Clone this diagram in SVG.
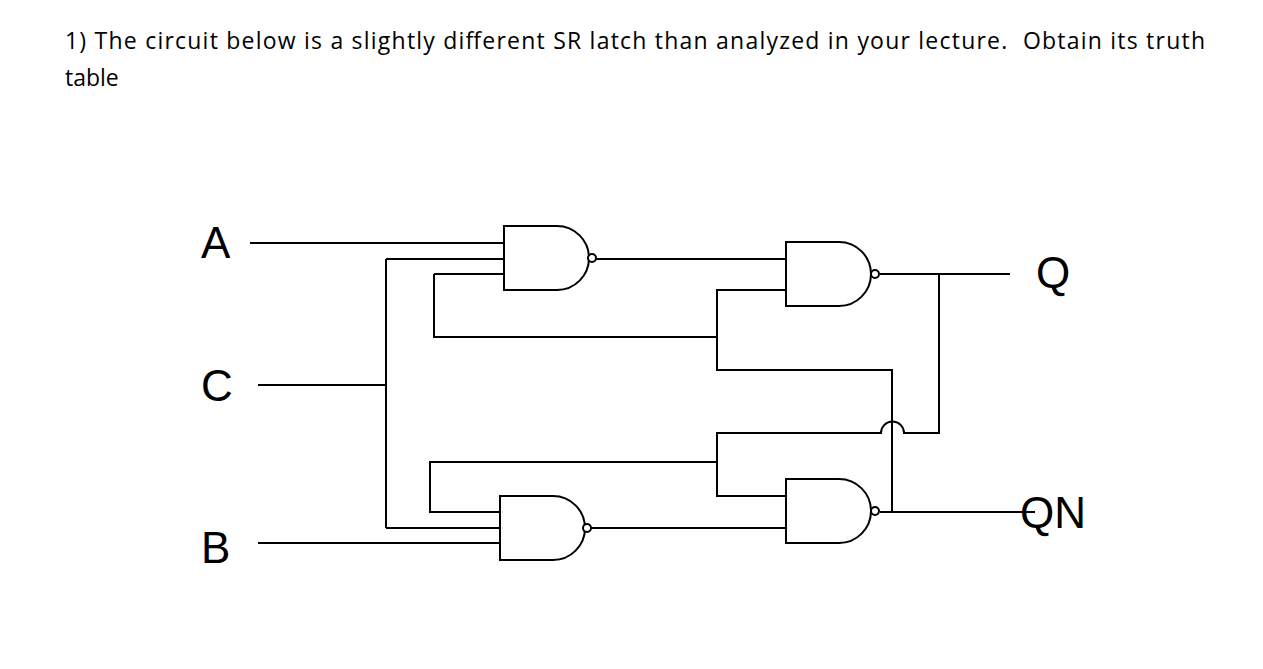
<svg xmlns="http://www.w3.org/2000/svg" width="1263" height="669" viewBox="0 0 1263 669">
<style>
.w{fill:none;stroke:#000;stroke-width:2}
.g{fill:#fff;stroke:#000;stroke-width:2}
.lbl{font-family:"Liberation Sans",Arial,sans-serif;font-size:44px;fill:#000}
.t{font-family:"Open Sans","Noto Sans",sans-serif;font-size:23px;fill:#000}
</style>
<rect width="1263" height="669" fill="#fff"/>
<text class="t" x="65" y="49" textLength="1140" lengthAdjust="spacing" xml:space="preserve">1) The circuit below is a slightly different SR latch than analyzed in your lecture.  Obtain its truth</text>
<text class="t" x="65" y="86">table</text>
<g id="connectors">
<path class="w" d="M250 243H504M258 385H386M386 259V528M386 259H504M386 528H500M258 543H500"/>
<path class="w" d="M592 259H786M587 528H786"/>
<path class="w" d="M434 274V337H717M504 274H434M786 290H717V370H892V512M880 512H1035"/>
<path class="w" d="M880 274H1010M939 274V433H904A11.5 11.5 0 0 0 881 433H717V496H786M717 462H430V512H500"/>
</g>
<g id="gate1"><path class="g" d="M504 226H557A32 32 0 0 1 557 290H504Z"/><circle class="g" cx="592" cy="258" r="4"/></g>
<g id="gate2"><path class="g" d="M786 242H839A32 32 0 0 1 839 306H786Z"/><circle class="g" cx="875" cy="274" r="4"/></g>
<g id="gate3"><path class="g" d="M500 496H553A32 32 0 0 1 553 560H500Z"/><circle class="g" cx="587" cy="528" r="4"/></g>
<g id="gate4"><path class="g" d="M786 479H839A32 32 0 0 1 839 543H786Z"/><circle class="g" cx="875" cy="511" r="4"/></g>
<g id="labels">
<text class="lbl" x="201" y="258">A</text>
<text class="lbl" x="201" y="401">C</text>
<text class="lbl" x="201" y="563">B</text>
<text class="lbl" x="1036" y="288">Q</text>
<text class="lbl" x="1020" y="528">QN</text>
</g>
</svg>
